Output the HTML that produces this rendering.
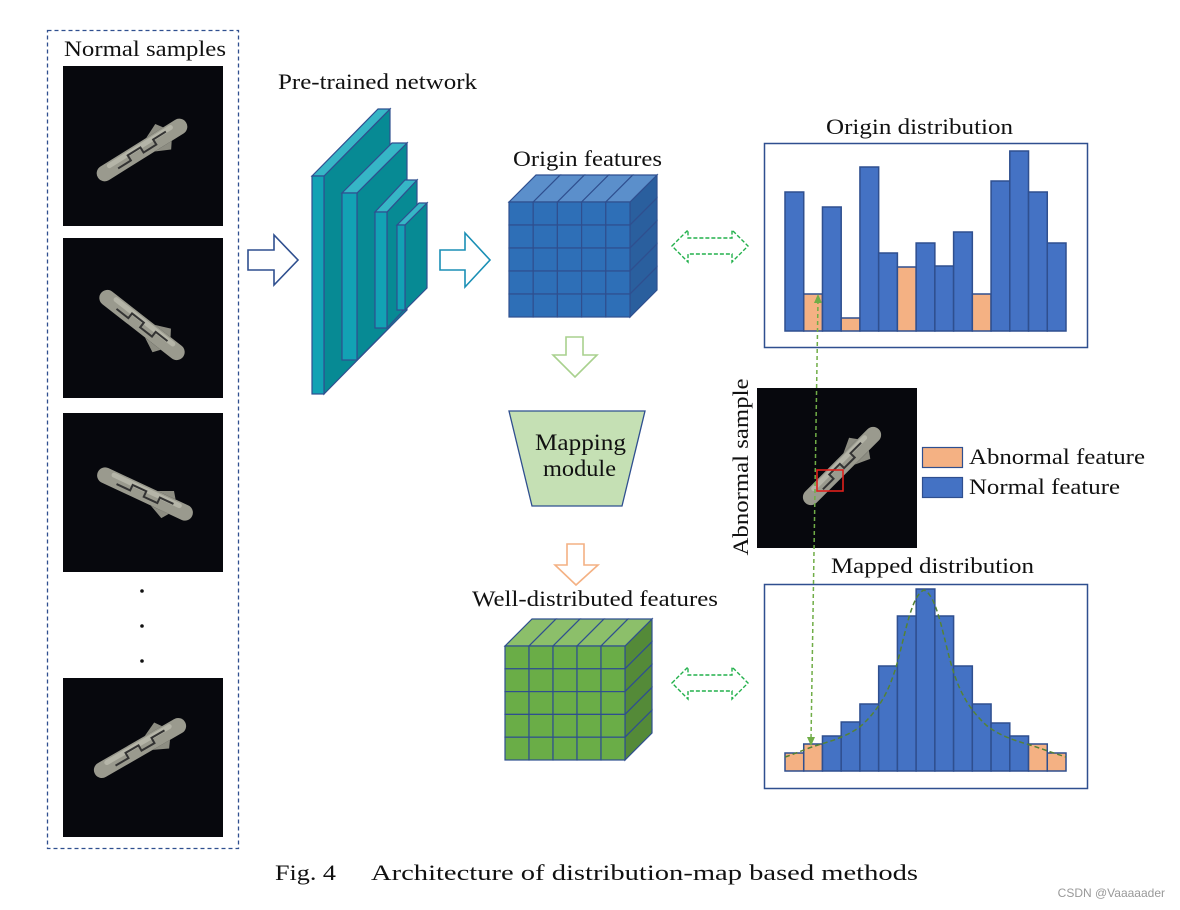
<!DOCTYPE html>
<html><head><meta charset="utf-8"><style>
html,body{margin:0;padding:0;background:#fff;}
svg{display:block;}
text{font-family:"Liberation Serif",serif;fill:#111;}
</style></head><body>
<svg id="s" width="1180" height="910" viewBox="0 0 1180 910" xmlns="http://www.w3.org/2000/svg">
<defs>
<g id="bolt">
<line x1="-44" y1="0" x2="44" y2="0" stroke="#9a9a8e" stroke-width="16" stroke-linecap="round"/>
<line x1="-36" y1="-4" x2="36" y2="-4" stroke="#b5b5a8" stroke-width="5" stroke-linecap="round"/>
<polyline points="-30,3 -15,3 -15,-3 0,-3 0,3 15,3 15,-3 30,-3" fill="none" stroke="#333" stroke-width="2"/>
<polygon points="10,-8 25,-15 30,-8" fill="#8d8d82"/>
<polygon points="10,8 25,15 30,8" fill="#8d8d82"/>
</g>
</defs>
<rect x="47.5" y="30.5" width="191" height="818" fill="none" stroke="#2f4f8f" stroke-width="1.3" stroke-dasharray="4,3"/>
<text x="64" y="56" font-size="22" textLength="162" lengthAdjust="spacingAndGlyphs">Normal samples</text>
<rect x="63" y="66" width="160" height="160" fill="#07080d"/>
<use href="#bolt" transform="translate(142,150) rotate(-32)"/>
<rect x="63" y="238" width="160" height="160" fill="#07080d"/>
<use href="#bolt" transform="translate(142,325) rotate(38)"/>
<rect x="63" y="413" width="160" height="159" fill="#07080d"/>
<use href="#bolt" transform="translate(145,494) rotate(25)"/>
<circle cx="142" cy="591" r="1.8" fill="#111"/><circle cx="142" cy="626" r="1.8" fill="#111"/><circle cx="142" cy="661" r="1.8" fill="#111"/>
<rect x="63" y="678" width="160" height="159" fill="#07080d"/>
<use href="#bolt" transform="translate(140,748) rotate(-30)"/>

<polygon points="248,250 274,250 274,235 298,260 274,285 274,270 248,270" fill="#fff" stroke="#2f4f8f" stroke-width="1.6"/>
<text x="278" y="89" font-size="22" textLength="199" lengthAdjust="spacingAndGlyphs">Pre-trained network</text>
<g id="net" stroke="#2f4f8f" stroke-width="1.2"></g>

<polygon points="440,250 465,250 465,233 490,260 465,287 465,270 440,270" fill="#fff" stroke="#1a8fb5" stroke-width="1.6"/>
<text x="513" y="166" font-size="22" textLength="149" lengthAdjust="spacingAndGlyphs">Origin features</text>
<g id="cube1"></g>

<polygon points="566,337 583,337 583,355 597,355 575,377 553,355 566,355" fill="#fff" stroke="#a9d18e" stroke-width="1.6"/>
<polygon points="509,411 645,411 622,506 532,506" fill="#c5e0b4" stroke="#2f4f8f" stroke-width="1.3"/>
<text x="535" y="450" font-size="23" textLength="91" lengthAdjust="spacingAndGlyphs">Mapping</text>
<text x="543" y="476" font-size="23" textLength="73" lengthAdjust="spacingAndGlyphs">module</text>
<polygon points="567,544 584,544 584,565 598,565 576,585 555,565 567,565" fill="#fff" stroke="#f4b183" stroke-width="1.6"/>
<text x="472" y="606" font-size="22" textLength="246" lengthAdjust="spacingAndGlyphs">Well-distributed features</text>
<g id="cube2"></g>

<polygon points="672,246 688,230 688,238 732,238 732,230 748,246 732,262 732,254 688,254 688,262" fill="#fff" stroke="#22b04b" stroke-width="1.4" stroke-dasharray="4,2"/>
<polygon points="672,683 688,667 688,675 732,675 732,667 748,683 732,699 732,691 688,691 688,699" fill="#fff" stroke="#22b04b" stroke-width="1.4" stroke-dasharray="4,2"/>

<text x="826" y="134" font-size="22" textLength="187" lengthAdjust="spacingAndGlyphs">Origin distribution</text>
<rect x="764.5" y="143.5" width="323" height="204" fill="#fff" stroke="#2f4f8f" stroke-width="1.5"/>
<g id="bars1"></g>
<text x="831" y="573" font-size="22" textLength="203" lengthAdjust="spacingAndGlyphs">Mapped distribution</text>
<rect x="764.5" y="584.5" width="323" height="204" fill="#fff" stroke="#2f4f8f" stroke-width="1.5"/>
<g id="bars2"></g>
<g id="curve"></g>

<text transform="translate(748,467) rotate(-90)" font-size="22" text-anchor="middle" textLength="177" lengthAdjust="spacingAndGlyphs">Abnormal sample</text>
<rect x="757" y="388" width="160" height="160" fill="#07080d"/>
<use href="#bolt" transform="translate(842,466) rotate(-45)"/>
<rect x="817" y="470" width="26" height="21" fill="none" stroke="#e0201b" stroke-width="1.6"/>
<rect x="922.5" y="447.5" width="40" height="20" fill="#f4b183" stroke="#2f4f8f" stroke-width="1.2"/>
<text x="969" y="464" font-size="22" textLength="176" lengthAdjust="spacingAndGlyphs">Abnormal feature</text>
<rect x="922.5" y="477.5" width="40" height="20" fill="#4472c4" stroke="#2f4f8f" stroke-width="1.2"/>
<text x="969" y="494" font-size="22" textLength="151" lengthAdjust="spacingAndGlyphs">Normal feature</text>

<line x1="818" y1="300" x2="811" y2="740" stroke="#70ad47" stroke-width="1.5" stroke-dasharray="4,3"/>
<polygon points="818,294 814,303 822,303" fill="#70ad47"/>
<polygon points="811,746 807,737 815,737" fill="#70ad47"/>

<text x="275" y="880" font-size="22" textLength="61" lengthAdjust="spacingAndGlyphs">Fig. 4</text>
<text x="371" y="880" font-size="22" textLength="547" lengthAdjust="spacingAndGlyphs">Architecture of distribution-map based methods</text>
<text x="1165" y="897" font-size="12" text-anchor="end" style="font-family:'Liberation Sans',sans-serif;fill:#999">CSDN @Vaaaaader</text>
</svg>
<script>
var NS="http://www.w3.org/2000/svg";
function el(p,t,a){var e=document.createElementNS(NS,t);for(var k in a)e.setAttribute(k,a[k]);document.getElementById(p).appendChild(e);return e;}
function P(a){return a.map(function(p){return p.join(",")}).join(" ");}
var L=[[312,324,176,394,390,109],[342,357,193,360,407,143],[375,387,212,328,417,180],[397,405,225,310,427,203]];
L.forEach(function(l){var x1=l[0],x2=l[1],y1=l[2],y2=l[3],dx=l[4]-x2,dy=l[5]-y1;
el("net","polygon",{points:P([[x2,y1],[x2+dx,y1+dy],[x2+dx,y2+dy],[x2,y2]]),fill:"#078a94"});
el("net","polygon",{points:P([[x1,y1],[x1+dx,y1+dy],[x2+dx,y1+dy],[x2,y1]]),fill:"#36b6c6"});
el("net","rect",{x:x1,y:y1,width:x2-x1,height:y2-y1,fill:"#12a2b4"});});
function cube(id,x1,x2,y1,y2,d,cf,ct,cs){var w=(x2-x1)/5,h=(y2-y1)/5,st={stroke:"#2f4f8f","stroke-width":1.2};
for(var i=0;i<5;i++){el(id,"polygon",Object.assign({points:P([[x1+i*w,y1],[x1+i*w+d,y1-d],[x1+(i+1)*w+d,y1-d],[x1+(i+1)*w,y1]]),fill:ct},st));
el(id,"polygon",Object.assign({points:P([[x2,y1+i*h],[x2+d,y1+i*h-d],[x2+d,y1+(i+1)*h-d],[x2,y1+(i+1)*h]]),fill:cs},st));
for(var j=0;j<5;j++)el(id,"rect",Object.assign({x:x1+i*w,y:y1+j*h,width:w,height:h,fill:cf},st));}}
cube("cube1",509,630,202,317,27,"#2e6fb7","#5b8fcb","#2a5f9e");
cube("cube2",505,625,646,760,27,"#6aad47","#8cbf6a","#548a38");
function bars(id,base,tops,or){var x=785,w=(1066-785)/15;tops.forEach(function(t,i){
el(id,"rect",{x:x+i*w,y:t,width:w,height:base-t,fill:or.indexOf(i)>=0?"#f4b183":"#4472c4",stroke:"#2f4f8f","stroke-width":1.5});});}
bars("bars1",331,[192,294,207,318,167,253,267,243,266,232,294,181,151,192,243],[1,3,6,10]);
bars("bars2",771,[753,744,736,722,704,666,616,589,616,666,704,723,736,744,753],[0,1,13,14]);
el("curve","path",{d:"M785,757 C800,752 808,748 818,745 C835,740 850,735 862,725 C880,708 890,690 898,660 C906,630 912,595 924,590 C936,595 942,630 950,660 C958,690 968,708 986,725 C998,735 1013,740 1030,745 C1040,748 1050,752 1066,757",fill:"none",stroke:"#548235","stroke-width":1.5,"stroke-dasharray":"5,3"});
</script>
</body></html>
